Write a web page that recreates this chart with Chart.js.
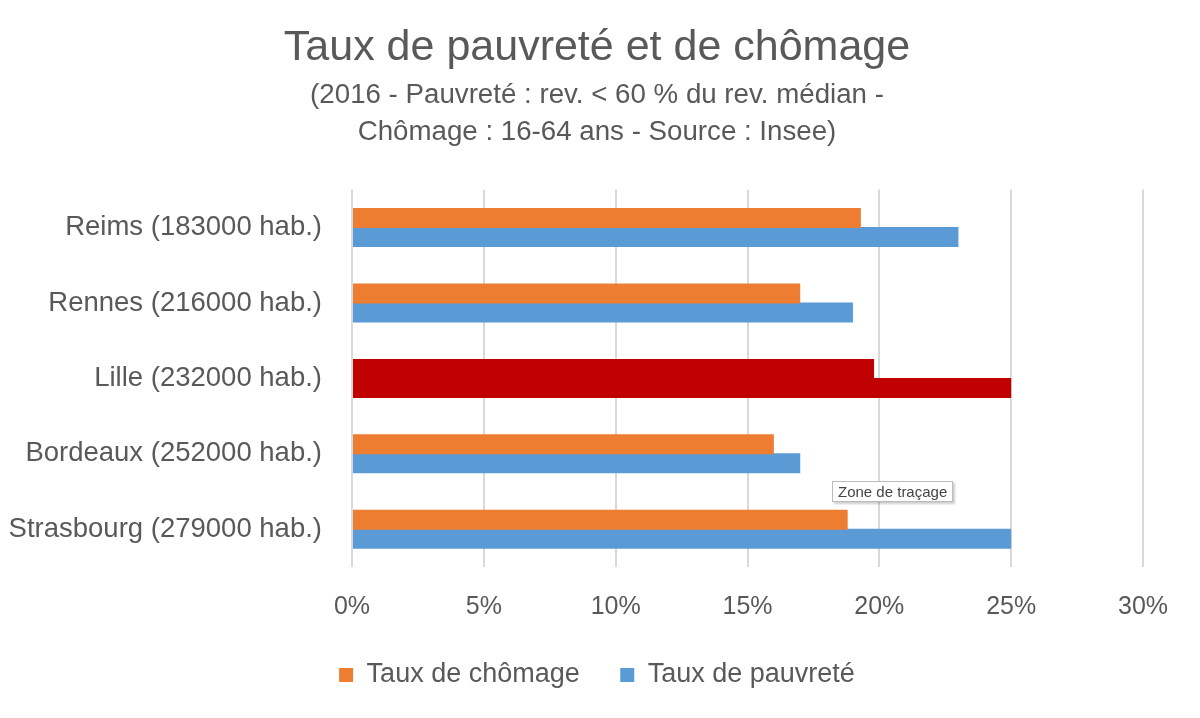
<!DOCTYPE html>
<html>
<head>
<meta charset="utf-8">
<script src="https://cdn.jsdelivr.net/npm/chart.js@4"></script>
<style>
  body { margin: 0; background: #fff; }
  #wrap { position: relative; width: 1200px; height: 718px; }
  #tip {
    position: absolute; left: 832px; top: 481px;
    padding: 1px 5px; border: 1px solid #bbb; background: #fff;
    font: 15px "Liberation Sans", sans-serif; color: #444;
    box-shadow: 2px 2px 2px rgba(0,0,0,0.2);
  }
</style>
</head>
<body>
<div id="wrap">
  <canvas id="povertyChart"></canvas>
  <div id="tip">Zone de traçage</div>
</div>
<script>
const ctx = document.getElementById('povertyChart');

//Prepare data
var cities = ['Reims (183000 hab.)', 'Rennes (216000 hab.)', 'Lille (232000 hab.)', 'Bordeaux (252000 hab.)', 'Strasbourg (279000 hab.)'];
var chomage = [19.3, 17.0, 19.8, 16.0, 18.8];
var pauvrete = [23.0, 19.0, 25.0, 17.0, 25.0];
var xTicks = [0, 5, 10, 15, 20, 25, 30];
var highlighted = 'Lille (232000 hab.)';

var grey = '#595959';
var font = '"Liberation Sans", Arial, sans-serif';

function colorsFor(base) {
    return cities.map(function (c) { return c === highlighted ? '#C00000' : base; });
}

//Create chart
new Chart(ctx, {
    type: 'bar',
    data: {
        labels: cities,
        datasets: [
            {
                label: 'Taux de chômage',
                data: chomage,
                backgroundColor: colorsFor('#ED7D31'),
                borderWidth: 0,
                barPercentage: 1.05,
                categoryPercentage: 0.505
            },
            {
                label: 'Taux de pauvreté',
                data: pauvrete,
                backgroundColor: colorsFor('#5B9BD5'),
                borderWidth: 0,
                barPercentage: 1.05,
                categoryPercentage: 0.505
            }
        ]
    },
    options: {
        indexAxis: 'y',
        responsive: true,
        maintainAspectRatio: false,
        animation: false,
        layout: { padding: { left: 9, right: 15, top: 10, bottom: 19.5 } },
        plugins: {
            title: {
                display: true,
                text: 'Taux de pauvreté et de chômage',
                color: grey,
                font: { family: font, size: 43, weight: 'normal' },
                padding: { top: 12, bottom: 3 }
            },
            subtitle: {
                display: true,
                text: ['(2016 - Pauvreté : rev. < 60 % du rev. médian -', 'Chômage : 16-64 ans - Source : Insee)'],
                color: grey,
                font: { family: font, size: 27.7, lineHeight: 1.34 },
                padding: { bottom: 39 }
            },
            legend: {
                position: 'bottom',
                labels: {
                    color: grey,
                    font: { family: font, size: 27 },
                    boxWidth: 14,
                    boxHeight: 14,
                    padding: 40.5,
                    generateLabels: function (chart) {
                        return chart.data.datasets.map(function (ds, i) {
                            return {
                                text: ds.label,
                                fillStyle: i === 0 ? '#ED7D31' : '#5B9BD5',
                                strokeStyle: 'transparent',
                                lineWidth: 0,
                                fontColor: grey,
                                datasetIndex: i
                            };
                        });
                    }
                }
            },
            tooltip: { enabled: false }
        },
        scales: {
            x: {
                min: 0,
                max: 30,
                afterBuildTicks: function (axis) {
                    axis.ticks = xTicks.map(function (v) { return { value: v }; });
                },
                afterFit: function (axis) { axis.height = 54; },
                ticks: {
                    color: grey,
                    font: { family: font, size: 25, lineHeight: 1 },
                    padding: 27.5,
                    callback: function (v) { return v + '%'; }
                },
                grid: { color: '#D9D9D9', lineWidth: 2, drawTicks: false },
                border: { display: false }
            },
            y: {
                afterFit: function (axis) { axis.width = 343; },
                ticks: {
                    color: grey,
                    font: { family: font, size: 27.5 },
                    padding: 30
                },
                grid: { display: false, drawTicks: false },
                border: { display: false }
            },
            yRight: {
                type: 'category',
                position: 'right',
                afterFit: function (axis) { axis.width = 42; },
                ticks: { display: false },
                grid: { display: false, drawTicks: false },
                border: { display: false }
            }
        }
    }
});
</script>
</body>
</html>
